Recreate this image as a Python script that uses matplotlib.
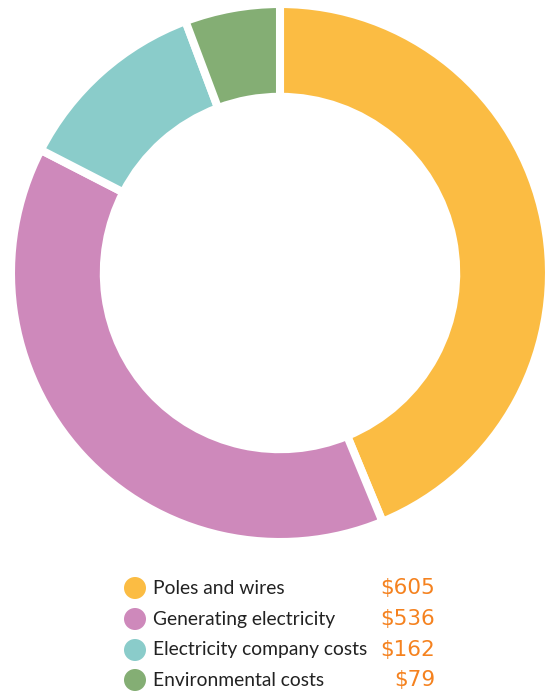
import matplotlib.pyplot as plt
from matplotlib.patches import Circle

categorias = ["Poles and wires", "Generating electricity",
              "Electricity company costs", "Environmental costs"]
valores = [605, 536, 162, 79]
rotulos = ["$605", "$536", "$162", "$79"]
cores = ["#FBBC43", "#CE89BB", "#8ACCCA", "#84AE74"]

W, H = 546, 691
fig = plt.figure(figsize=(W / 100, H / 100), dpi=100)

# eixo do donut (quadrado, centrado em 280, 273)
cx, cy, r = 280, 273, 269
ax = fig.add_axes([(cx - r) / W, (H - cy - r) / H, 2 * r / W, 2 * r / H])
ax.pie(valores, colors=cores, startangle=90, counterclock=False, radius=1,
       wedgeprops=dict(width=0.345, edgecolor="white", linewidth=5.8))
ax.set_xlim(-1, 1)
ax.set_ylim(-1, 1)
ax.set_aspect("equal")
ax.axis("off")

# legenda manual
lg = fig.add_axes([0, 0, 1, 1])
lg.set_xlim(0, W)
lg.set_ylim(H, 0)
lg.axis("off")
linhas_y = [588, 619, 650, 680]
for y, nome, rot, cor in zip(linhas_y, categorias, rotulos, cores):
    lg.add_patch(Circle((135, y), 11, color=cor, lw=0))
    lg.text(153, y, nome, fontsize=13.9, family="Lato", color="#222222",
            va="center", ha="left")
    lg.text(435, y, rot, fontsize=15.5, family="DejaVu Sans", color="#F5821F",
            va="center", ha="right")

fig.savefig("out.png", dpi=100)
